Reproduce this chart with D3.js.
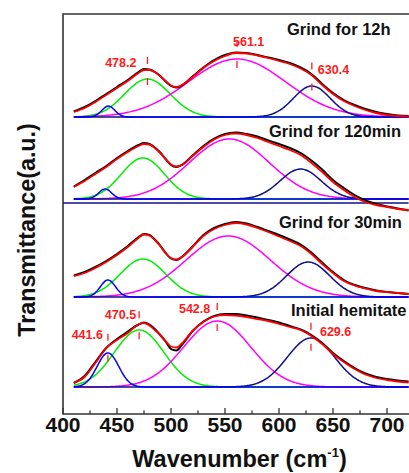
<!DOCTYPE html>
<html>
<head>
<meta charset="utf-8">
<script src="https://cdn.jsdelivr.net/npm/d3@7"></script>
<style>
  html, body { margin: 0; padding: 0; background: #fff; }
  svg { display: block; }
  text { font-family: "Liberation Sans", Arial, Helvetica, sans-serif; }
</style>
</head>
<body>
<svg id="chart" width="409" height="473"></svg>
<script>
// ---- data -------------------------------------------------------------
// Wavenumber grid (cm-1) shared by the measured and fitted spectra
const wavenumbers = [410,420,430,440,450,460,470,475,480,485,490,495,500,505,510,520,530,540,550,560,570,580,590,600,610,620,630,640,650,660,670,680,690,700,710,720];

// Sample names, top to bottom, and the vertical stacking offset of each
const sampleNames   = ["Grind for 12h", "Grind for 120min", "Grind for 30min", "Initial hemitate"];
const sampleOffsets = [297, 215, 117, 27];

// Measured transmittance (a.u., above each trace's own baseline)
const measured12h    = [5.5,10,16,23,30,37,45,48,47.5,45,41,35.5,31,29.5,31.5,40.5,49.5,57,62,64.5,64,62,59.5,57,54,49.5,43,33,24,17,12,8,5,3,1.5,1];
const measured120min = [12.5,19,26,33,41,48,54,56,55,51.5,46.5,40,34,32,34,43.5,53,60.5,65,66.5,65,62.5,58.5,55,51,46,38.5,29.5,19,11,4,-1.5,-5,-7.5,-9.5,-11.5];
const measured30min  = [21.5,25,30,36,43,51,60,63,62,57.5,51.5,44,38.5,37,40,50.5,62,69,73,75,73.5,70,66,62,57.5,52.5,44.5,34.5,25,17,12,9,6.5,5,4,3];
const measuredInit   = [4,11,25,39,48,55.5,62.5,64.5,62.5,58,52,45.5,38,36.5,42,56,65.5,71,73,73,71.5,69.5,67,64.5,61,57.5,52,44,34,26,19,13.5,10,8,6.5,5.5];

// Fitted envelope (sum of the band components)
const fit12h    = [5,9,15,22,29,36,44,47,47,45,41,36,31.5,30,32,40,49,56,61,64,63.5,61.5,59,56,53,48.5,42,32,23,16,11,7,4,2,1,0.5];
const fit120min = [12,18,25,32,40,47,53,55,54.5,51,46,40,34.5,32.5,34,43,52,59.5,64,65.5,64,61,57,53,49,44,36,27,17,9,2,-3,-6,-8,-10,-11];
const fit30min  = [21,24,29,35,42,50,59,62.5,61.5,57,51,44,39,37.5,40,50,61,68,72,74,72.5,69,65,60.5,56,51,43,33,24,16,11.5,8.5,6,5,4,3];
const fitInit   = [4,10,24,39,47,54,62.5,64,61.5,57,52,46,40.5,39.5,43.5,56,65,70.5,72,71.5,70,68,66,63,60,57,51,43,33,25,18,12.5,9,7,5.5,4.5];

// Gaussian band components: [~442 band, ~475 band, ~555 band, ~630 band]
const centers12h    = [442, 478.2, 561.1, 630.4];
const heights12h    = [11, 38, 58, 31];
const widths12h     = [6, 21, 45, 17];
const centers120min = [439, 474, 554, 620];
const heights120min = [10, 41, 60, 30];
const widths120min  = [6, 20, 37, 19];
const centers30min  = [441.6, 474, 553, 627];
const heights30min  = [17, 38, 61, 35];
const widths30min   = [7, 21, 39, 20];
const centersInit   = [441.6, 470.5, 542.8, 629.6];
const heightsInit   = [34, 57, 66, 49];
const widthsInit    = [10, 23, 31, 22];

// Annotated band positions (cm-1)
const labels12h  = [478.2, 561.1, 630.4];
const labelsInit = [441.6, 470.5, 542.8, 629.6];

// Axis ticks
const majorTicks = [400, 450, 500, 550, 600, 650, 700];
const minorTicks = [425, 475, 525, 575, 625, 675];

// ---- drawing ----------------------------------------------------------
const svg = d3.select("#chart");
const x = d3.scaleLinear().domain([400, 720]).range([63, 408.6]);
const y = d3.scaleLinear().domain([0, 400]).range([414, 14]);

const bandColors = ["#0000ff", "#00ee00", "#ff00ff", "#10108a"];
const drawOrder  = [1, 2, 3, 0];

const samples = [
  { measured: measured12h,    fit: fit12h,    c: centers12h,    h: heights12h,    w: widths12h,    labels: labels12h },
  { measured: measured120min, fit: fit120min, c: centers120min, h: heights120min, w: widths120min, labels: [] },
  { measured: measured30min,  fit: fit30min,  c: centers30min,  h: heights30min,  w: widths30min,  labels: [] },
  { measured: measuredInit,   fit: fitInit,   c: centersInit,   h: heightsInit,   w: widthsInit,   labels: labelsInit }
];

const line = d3.line().x(d => x(d[0])).y(d => y(d[1])).curve(d3.curveMonotoneX);
const gLines = svg.append("g");

// Full-width separator under the 120 min trace
gLines.append("line")
  .attr("x1", x(400)).attr("x2", x(720))
  .attr("y1", y(sampleOffsets[1]) + 4).attr("y2", y(sampleOffsets[1]) + 4)
  .attr("stroke", "#10108a").attr("stroke-width", 1.6);

const componentGrid = d3.range(410, 720.5, 1);

samples.forEach((s, i) => {
  const off = sampleOffsets[i];
  const g = gLines.append("g");
  // band components
  drawOrder.forEach(k => {
    const pts = componentGrid.map(v => [v, off + s.h[k] * Math.exp(-((v - s.c[k]) ** 2) / (2 * s.w[k] ** 2))]);
    g.append("path").attr("d", line(pts)).attr("fill", "none")
      .attr("stroke", bandColors[k]).attr("stroke-width", 1.5);
  });
  // measured spectrum
  g.append("path").attr("d", line(wavenumbers.map((v, j) => [v, off + s.measured[j]])))
    .attr("fill", "none").attr("stroke", "#000").attr("stroke-width", 2);
  // fitted envelope
  g.append("path").attr("d", line(wavenumbers.map((v, j) => [v, off + s.fit[j]])))
    .attr("fill", "none").attr("stroke", "#ff0000").attr("stroke-width", 1.8);
});

// Peak markers and value labels
const labelPlacement = {
  "478.2": { dx: -11, dy: -3, anchor: "end" },
  "561.1": { dx: -4,  dy: -7, anchor: "start" },
  "630.4": { dx: 6,   dy: -1, anchor: "start" },
  "441.6": { dx: -5,  dy: -8, anchor: "end" },
  "470.5": { dx: -3,  dy: -5, anchor: "end" },
  "542.8": { dx: -7,  dy: -3, anchor: "end" },
  "629.6": { dx: 9,   dy: 0,  anchor: "start" }
};
const fitAt = (s, v) => {
  const j = d3.bisectLeft(wavenumbers, v);
  const a = wavenumbers[j - 1], b = wavenumbers[j];
  const t = (v - a) / (b - a);
  return s.fit[j - 1] * (1 - t) + s.fit[j] * t;
};
const gLab = svg.append("g");
samples.forEach((s, i) => {
  s.labels.forEach(v => {
    const px = x(v), py = y(sampleOffsets[i] + fitAt(s, v));
    gLab.append("line").attr("x1", px).attr("x2", px)
      .attr("y1", py - 13).attr("y2", py + 15)
      .attr("stroke", "#ff2020").attr("stroke-width", 1.3)
      .attr("stroke-dasharray", "7,14");
    const p = labelPlacement[v.toFixed(1)];
    gLab.append("text").attr("x", px + p.dx).attr("y", py + p.dy)
      .attr("text-anchor", p.anchor).attr("fill", "#ff1a1a")
      .attr("font-size", 12.5).attr("font-weight", "bold")
      .text(v.toFixed(1));
  });
});

// Sample names
const namePos = [[287, 35], [269, 137], [279, 228], [291, 316]];
sampleNames.forEach((n, i) => {
  svg.append("text").attr("x", namePos[i][0]).attr("y", namePos[i][1])
    .attr("font-size", 16.5).attr("font-weight", "bold").attr("fill", "#111")
    .text(n);
});

// Frame
svg.append("path")
  .attr("d", `M${x(720) + 6},${y(400)}H${x(400)}V${y(0)}H${x(720) + 6}`)
  .attr("fill", "none").attr("stroke", "#333").attr("stroke-width", 1.6);

// Bottom axis ticks (pointing inward) and labels
const gx = svg.append("g");
majorTicks.forEach(t => {
  gx.append("line").attr("x1", x(t)).attr("x2", x(t)).attr("y1", y(0)).attr("y2", y(0) - 6)
    .attr("stroke", "#333").attr("stroke-width", 1.3);
  gx.append("text").attr("x", x(t)).attr("y", 431.5).attr("text-anchor", "middle")
    .attr("font-size", 21).attr("font-weight", "bold").attr("fill", "#111").text(t);
});
minorTicks.forEach(t => {
  gx.append("line").attr("x1", x(t)).attr("x2", x(t)).attr("y1", y(0)).attr("y2", y(0) - 3.5)
    .attr("stroke", "#333").attr("stroke-width", 1.3);
});

// Axis titles
const xt = svg.append("text").attr("x", 239.5).attr("y", 466.5).attr("text-anchor", "middle")
  .attr("font-size", 23.5).attr("font-weight", "bold").attr("fill", "#111");
xt.append("tspan").text("Wavenumber (cm");
xt.append("tspan").attr("font-size", 13).attr("dy", -10).text("-1");
xt.append("tspan").attr("dy", 10).text(")");

svg.append("text").attr("transform", "translate(35,230) rotate(-90)")
  .attr("text-anchor", "middle").attr("font-size", 23.3).attr("font-weight", "bold").attr("fill", "#111")
  .text("Transmittance(a.u.)");
</script>
</body>
</html>
